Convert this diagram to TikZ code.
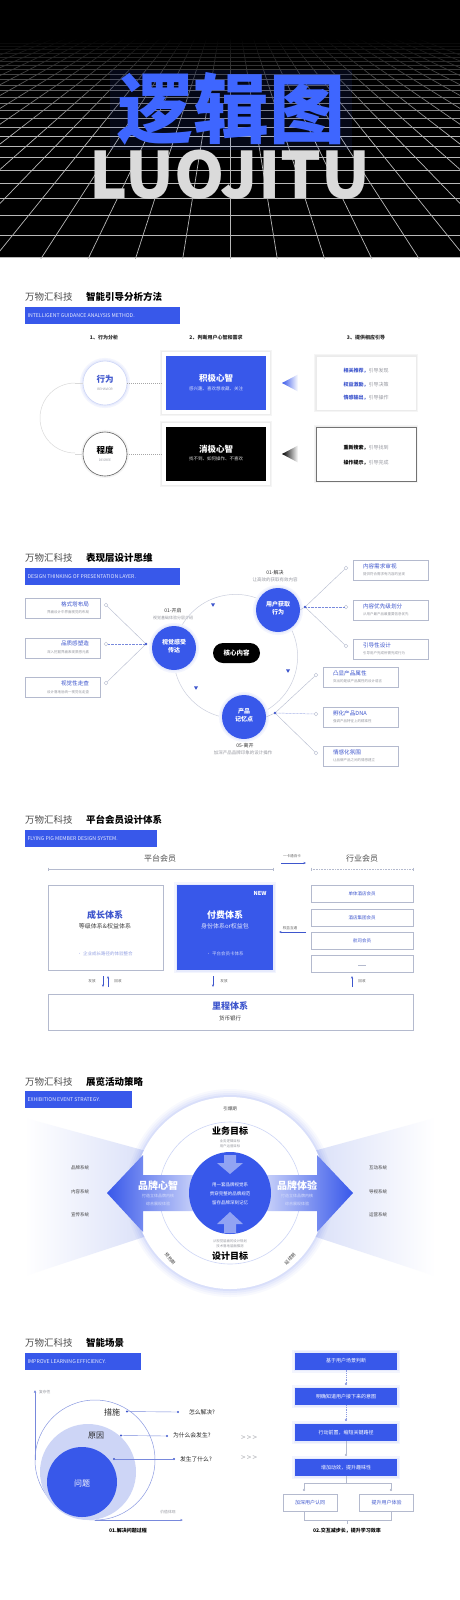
\documentclass[tikz,border=0pt]{standalone}
\usepackage{fontspec}
\setmainfont{Noto Sans CJK SC}
\usetikzlibrary{arrows.meta,fadings,calc}
\definecolor{mblue}{RGB}{56,88,234}
\definecolor{tblue}{RGB}{62,86,205}
\definecolor{lblue}{RGB}{205,213,246}
\definecolor{gtext}{RGB}{150,152,160}
\definecolor{bline}{RGB}{180,186,206}
\definecolor{ttl}{RGB}{62,102,255}
\definecolor{lgray}{RGB}{218,218,218}
\begin{document}
\begin{tikzpicture}[x=1pt,y=-1pt,
  every node/.style={inner sep=0pt,outer sep=0pt},
  fs/.style={font=\fontsize{#1}{#1}\selectfont},
  fsb/.style={font=\fontsize{#1}{#1}\selectfont\bfseries},
  hdr/.style={anchor=west,fs=9.5,text=black!70},
  hdrb/.style={anchor=west,fsb=9.5,text=black},
  bannerbox/.style={anchor=north west,fill=mblue,minimum height=16.5pt},
  bannertext/.style={anchor=west,fs=5.2,text=white!88!mblue},
  gridline/.style={draw=white!72!black,line width=0.7pt},
  colhead/.style={fsb=5,text=black!85},
  softshadow/.style={preaction={draw=black!4,line width=4pt},preaction={draw=black!7,line width=2pt}},
  blueglow/.style={preaction={draw=mblue!6,line width=6pt},preaction={draw=mblue!12,line width=3pt}},
  arcline/.style={draw=black!15,line width=0.5pt},
  dashline/.style={draw=black!35,dash pattern=on 1pt off 1pt,line width=0.4pt},
  bigc/.style={circle,minimum size=44pt,fill=white,line width=0.6pt},
  frame/.style={minimum width=108pt,minimum height=62pt,fill=white,softshadow},
  mbox/.style={minimum width=100pt,minimum height=54pt},
  rbox/.style={minimum width=100pt,minimum height=54pt,fill=white,line width=0.5pt},
  bcirc/.style={circle,minimum size=44pt,fill=mblue,blueglow},
  ctext/.style={text=white,align=center,font=\fontsize{6}{8}\selectfont\bfseries},
  conn/.style={draw=bline,line width=0.4pt},
  dconn/.style={draw=tblue!70,dash pattern=on 0.6pt off 0.8pt,line width=0.5pt},
  smallc/.style={circle,draw=bline,fill=white,minimum size=3.6pt,line width=0.4pt},
  hub/.style={circle,fill=tblue,minimum size=2.6pt},
  lbox/.style={draw=bline,fill=white,minimum width=75pt,minimum height=20pt,line width=0.5pt},
  ltitle/.style={fs=5.6,text=tblue},
  lsub/.style={fs=3.5,text=gtext},
  sbox/.style={draw=bline,fill=white,line width=0.5pt},
  tarrow/.style={draw=tblue,line width=0.4pt,-{Stealth[length=2.5pt,width=2pt]}},
  tiny/.style={fs=3.6,text=black!60},
  flow/.style={fill=mblue,minimum width=102pt,minimum height=17pt,text=white,fs=5,blueglow},
  flow2/.style={draw=bline,fill=white,minimum width=54pt,minimum height=17pt,text=tblue,fs=5},
  fline/.style={draw=bline,line width=0.5pt},
  dot/.style={circle,fill=tblue,minimum size=2.2pt}
]
\useasboundingbox (0,0) rectangle (460,1600);
\clip (0,0) rectangle (460,1600);
\fill[white] (0,0) rectangle (460,1600);

% ================= HEADER =================
\fill[black] (0,0) rectangle (460,258);
\begin{scope}
  \clip (0,40) rectangle (460,258);
  \foreach \n in {0,...,25}{
    \pgfmathsetmacro\yy{-79+336/(1+0.07*\n)}
    \draw[gridline] (0,\yy) -- (460,\yy);
  }
  \foreach \k in {-16,...,16}{
    \draw[gridline] (230,-34) -- (230+47.8*\k,262);
  }
  \fill[black,path fading=south] (0,38) rectangle (460,135);
\end{scope}
\fill[mblue,opacity=0.10] (110,70) rectangle (352,150);
\node[fsb=76,text=ttl] (title) at (231,109) {逻辑图};
\node[fsb=64,text=lgray,anchor=base] (sub) at (230,198) {LUOJITU};

% ================= SECTION 1 =================
\node[hdr] (h1a) at (25,297) {万物汇科技};
\node[hdrb] (h1b) at (86,297) {智能引导分析方法};
\node[bannerbox,minimum width=155pt] (bn1) at (25,307) {};
\node[bannertext] at ([xshift=2.5pt]bn1.west) {INTELLIGENT GUIDANCE ANALYSIS METHOD.};
\node[colhead] (ch1) at (104,338) {1、行为分析};
\node[colhead] (ch2) at (216,338) {2、判断用户心智和需求};
\node[colhead] (ch3) at (366,338) {3、提供相应引导};

\draw[arcline] (75,383) arc[start angle=90,end angle=270,radius=35pt];
\node[bigc,draw=lblue,blueglow] (xw) at (105,383) {};
\node[bigc,draw=black!60,softshadow] (cd) at (105,454) {};
\draw[arcline] (75,383) -- (xw.west);
\draw[arcline] (75,454) -- (cd.west);
\node[fsb=8.5,text=tblue] at (105,379) {行为};
\node[fs=3.2,text=gtext] at (105,389) {BEHAVIOR};
\node[fsb=8.5,text=black] at (105,450) {程度};
\node[fs=3.2,text=gtext] at (105,460) {DEGREE};

\node[frame] (fr1) at (216,383) {};
\node[frame] (fr2) at (216,454) {};
\node[mbox,fill=mblue] (jj) at (216,383) {};
\node[mbox,fill=black] (xj) at (216,454) {};
\draw[dashline] (xw.east) -- (fr1.west);
\draw[dashline] (cd.east) -- (fr2.west);
\node[fsb=8.5,text=white] at (216,378) {积极心智};
\node[fs=4.5,text=white!80!mblue] at (216,389) {感兴趣、喜欢想收藏、关注};
\node[fsb=8.5,text=white] at (216,449) {消极心智};
\node[fs=4.5,text=white!85!black] at (216,459) {找不到、如何操作、不喜欢};

\shade[left color=mblue,right color=white] (282,383) -- (298,374.5) -- (298,391.5) -- cycle;
\shade[left color=black,right color=white] (282,454) -- (298,445.5) -- (298,462.5) -- cycle;

\node[rbox,draw=black!8,softshadow] (ra) at (366,383) {};
\node[rbox,draw=black!55,softshadow] (rb) at (366,454) {};
\node[fs=5] at (366,371) {\textcolor{tblue}{\bfseries 相关推荐，}\textcolor{gtext}{引导发现}};
\node[fs=5] at (366,384.5) {\textcolor{tblue}{\bfseries 权益激励，}\textcolor{gtext}{引导决策}};
\node[fs=5] at (366,398) {\textcolor{tblue}{\bfseries 情感输出，}\textcolor{gtext}{引导操作}};
\node[fs=5] at (366,448) {\textcolor{black}{\bfseries 重新搜索，}\textcolor{gtext}{引导找到}};
\node[fs=5] at (366,463) {\textcolor{black}{\bfseries 操作提示，}\textcolor{gtext}{引导完成}};

% ================= SECTION 2 =================
\node[hdr] (h2a) at (25,558) {万物汇科技};
\node[hdrb] (h2b) at (86,558) {表现层设计思维};
\node[bannerbox,minimum width=155pt] (bn2) at (25,568) {};
\node[bannertext] at ([xshift=2.5pt]bn2.west) {DESIGN THINKING OF PRESENTATION LAYER.};

\draw[draw=bline!70,line width=0.5pt] (235.6,656.4) circle[radius=62pt];
\foreach \px/\py in {213/605,196/688,288/671}{
  \fill[tblue] (\px-2,\py-1.6) -- (\px+2,\py-1.6) -- (\px,\py+1.8) -- cycle;
}
\node[fill=black,rounded corners=10pt,minimum width=47pt,minimum height=20pt,text=white,fsb=6.5] (core) at (236.5,653) {核心内容};

% left group
\node[lbox] (lb1) at (62.5,608) {};
\node[lbox] (lb2) at (62.5,648) {};
\node[lbox] (lb3) at (62.5,687.5) {};
\node[ltitle,anchor=east] at (89,604) {格式塔布局};
\node[lsub,anchor=east] at (89,612) {界面设计中界面视觉的布局};
\node[ltitle,anchor=east] at (89,643.5) {品质感塑造};
\node[lsub,anchor=east] at (89,652) {深入挖掘界面表现质感元素};
\node[ltitle,anchor=east] at (89,683) {视觉性走查};
\node[lsub,anchor=east] at (89,692) {设计落地后统一视觉化走查};
\node[smallc] (l1) at (106,605) {};
\node[smallc] (l2) at (106,644) {};
\node[smallc] (l3) at (106,683) {};
\node[hub] (hL) at (146,644) {};
\draw[conn] (hL) -- (l1);
\draw[dconn] (hL) -- (l2);
\draw[conn] (hL) -- (l3);

\node[bcirc] (vis) at (174,648) {};
\node[ctext] at (174,646) {视觉感受\\传达};
\node[fs=5,text=black!80] at (173,611) {01-开启};
\node[fs=4,text=gtext] at (173,618) {视觉基础体验分层介绍};

\node[bcirc] (usr) at (278,610) {};
\node[ctext] at (278,608) {用户获取\\行为};
\node[fs=5,text=black!80] at (275,573) {01-解决};
\node[fs=4.5,text=gtext] at (275,580) {让高效的获取有效内容};

\node[bcirc] (prd) at (244,717) {};
\node[ctext] at (244,715) {产品\\记忆点};
\node[fs=5,text=black!80] at (245,746) {05-离开};
\node[fs=4.5,text=gtext] at (243,753) {加深产品品牌印象的设计操作};

% right group 1
\node[hub] (hR1) at (305,607) {};
\node[smallc] (r1) at (346,568) {};
\node[smallc] (r2) at (346,607) {};
\node[smallc] (r3) at (346,646) {};
\draw[conn] (usr.east) -- (hR1);
\draw[conn] (hR1) -- (r1);
\draw[dconn] (hR1) -- (r2);
\draw[conn] (hR1) -- (r3);
\node[lbox] (rb1) at (390.5,570.5) {};
\node[lbox] (rb2) at (390.5,610) {};
\node[lbox] (rb3) at (390.5,649) {};
\node[ltitle,anchor=west] at (363,566) {内容需求审视};
\node[lsub,anchor=west] at (363,574) {提供符合需求有内容的呈现};
\node[ltitle,anchor=west] at (363,606) {内容优先级划分};
\node[lsub,anchor=west] at (363,614) {从用户最产品最重要信息优先};
\node[ltitle,anchor=west] at (363,645) {引导性设计};
\node[lsub,anchor=west] at (363,653) {引导用户完成所需完成行为};

% right group 2
\node[hub] (hR2) at (275,713) {};
\node[smallc] (p1) at (316,675) {};
\node[smallc] (p2) at (316,714) {};
\node[smallc] (p3) at (316,753) {};
\draw[conn] (prd.east) -- (hR2);
\draw[conn] (hR2) -- (p1);
\draw[dconn] (hR2) -- (p2);
\draw[conn] (hR2) -- (p3);
\node[lbox] (pb1) at (360.5,677) {};
\node[lbox] (pb2) at (360.5,717) {};
\node[lbox] (pb3) at (360.5,756) {};
\node[ltitle,anchor=west] at (333,673) {凸显产品属性};
\node[lsub,anchor=west] at (333,681) {突出的是该产品属性的设计语言};
\node[ltitle,anchor=west] at (333,713) {孵化产品DNA};
\node[lsub,anchor=west] at (333,721) {强调产品特征上的精准性};
\node[ltitle,anchor=west] at (333,752) {情感化氛围};
\node[lsub,anchor=west] at (333,760) {让品牌产品之间的情感建立};

% ================= SECTION 3 =================
\node[hdr] (h3a) at (25,820) {万物汇科技};
\node[hdrb] (h3b) at (86,820) {平台会员设计体系};
\node[bannerbox,minimum width=132pt] (bn3) at (25,830) {};
\node[bannertext] at ([xshift=2.5pt]bn3.west) {FLYING PIG MEMBER DESIGN SYSTEM.};

\node[fs=8,text=black!70] (pm) at (160,858) {平台会员};
\node[fs=8,text=black!70] (im) at (362,858) {行业会员};
\coordinate (pl1) at (48,869); \coordinate (pl2) at (273,869);
\coordinate (il1) at (311,869); \coordinate (il2) at (413,869);
\draw[draw=bline,line width=0.5pt] (pl1) -- (pl2);
\draw[draw=bline,line width=0.4pt] (48,867.5) -- (48,870.5) (273,867.5) -- (273,870.5);
\draw[draw=bline,line width=0.5pt,dash pattern=on 0.8pt off 0.8pt] (il1) -- (il2);
\draw[draw=bline,line width=0.4pt] (311,867.5) -- (311,870.5) (413,867.5) -- (413,870.5);
\node[tiny] (ykt) at (292,856) {一卡通百卡};
\coordinate (ya) at (281,863); \coordinate (yb) at (306,863);
\draw[tarrow] (ya) -- (yb);

\node[sbox,minimum width=115pt,minimum height=85pt] (cz) at (105.5,927.5) {};
\node[fill=mblue,minimum width=96pt,minimum height=85pt,blueglow] (ff) at (225,927.5) {};
\node[fsb=9,text=tblue] at (105,915) {成长体系};
\node[fs=6,text=black!75] at (105,926) {等级体系\&权益体系};
\node[fs=4.5,text=tblue!55] at (105,954) {• 企业成长路径的体验整合};
\node[fsb=5.5,text=white] at (260,893) {NEW};
\node[fsb=9,text=white] at (225,915) {付费体系};
\node[fs=6,text=white!85!mblue] at (225,926) {身份体系or权益包};
\node[fs=4.5,text=white!75!mblue] at (225,954) {• 平台会员卡体系};

\node[sbox,minimum width=102pt,minimum height=17pt,fs=4.5,text=tblue] (m1) at (362,893.5) {单体酒店会员};
\node[sbox,minimum width=102pt,minimum height=17pt,fs=4.5,text=tblue] (m2) at (362,917.5) {酒店集团会员};
\node[sbox,minimum width=102pt,minimum height=17pt,fs=4.5,text=tblue] (m3) at (362,940.5) {航司会员};
\node[sbox,minimum width=102pt,minimum height=17pt] (m4) at (362,964) {};
\draw[draw=bline,line width=0.4pt] (358,965) -- (366,965);
\node[tiny] (qy) at (290,928) {权益互通};
\coordinate (qa) at (306,932); \coordinate (qb) at (279,932);
\draw[tarrow] (qa) -- (qb);

\node[tiny] at (92,981) {发放};
\draw[tarrow] (103,976) -- (103,987);
\draw[tarrow] (108,987) -- (108,976);
\node[tiny] at (118,981) {回收};
\draw[tarrow] (213,976) -- (213,987);
\node[tiny] at (224,981) {发放};
\draw[tarrow] (352,987) -- (352,976);
\node[tiny] at (362,981) {回收};

\node[sbox,minimum width=365pt,minimum height=36pt] (lc) at (230.5,1012) {};
\node[fsb=9,text=tblue] at (230,1006) {里程体系};
\node[fs=5.5,text=black!75] at (230,1018) {货币银行};

% ================= SECTION 4 =================
\node[hdr] (h4a) at (25,1082) {万物汇科技};
\node[hdrb] (h4b) at (86,1082) {展览活动策略};
\node[bannerbox,minimum width=107pt] (bn4) at (25,1091) {};
\node[bannertext] at ([xshift=2.5pt]bn4.west) {EXHIBITION EVENT STRATEGY.};

\shade[left color=white,right color=lblue!75] (25,1118) -- (150,1152) -- (150,1235) -- (25,1276) -- cycle;
\shade[right color=white,left color=lblue!75] (435,1118) -- (310,1152) -- (310,1235) -- (435,1276) -- cycle;
\foreach \r/\o in {104/0.03,102/0.04,100/0.05,98/0.07}{
  \fill[mblue,opacity=\o] (230,1193) circle[radius=\r pt];
}
\fill[white] (230,1193) circle[radius=96pt];
\draw[draw=lblue,line width=0.6pt,fill=white] (230,1193) circle[radius=71pt];
\shade[left color=mblue,right color=mblue!25!white] (107,1193) -- (143,1155) -- (143,1175) -- (198,1175) -- (198,1211) -- (143,1211) -- (143,1232) -- cycle;
\shade[right color=mblue,left color=mblue!25!white] (353,1193) -- (317,1155) -- (317,1175) -- (262,1175) -- (262,1211) -- (317,1211) -- (317,1232) -- cycle;
\fill[mblue] (230,1193) circle[radius=41pt];
\fill[white,opacity=0.45] (224,1155) -- (236,1155) -- (236,1163) -- (243,1163) -- (230,1174) -- (217,1163) -- (224,1163) -- cycle;
\fill[white,opacity=0.45] (224,1233) -- (236,1233) -- (236,1224) -- (243,1224) -- (230,1212) -- (217,1224) -- (224,1224) -- cycle;
\node[fs=4.5,text=white] at (230,1185) {用一套品牌视觉系};
\node[fs=4.5,text=white] at (230,1194) {贯穿完整的品牌规范};
\node[fs=4.5,text=white] at (230,1203) {留存品牌深刻记忆};
\node[fsb=9,text=black] (yw) at (230,1131) {业务目标};
\node[fs=3.4,text=gtext] at (230,1141) {业务逻辑目标};
\node[fs=3.4,text=gtext] at (230,1146) {用户运营目标};
\node[fsb=9,text=black] (sj) at (230,1256) {设计目标};
\node[fs=3.4,text=gtext] at (230,1241) {从视觉层面的设计规划};
\node[fs=3.4,text=gtext] at (230,1246) {技术落地层面推测};
\node[fsb=10,text=white] at (158,1186) {品牌心智};
\node[fs=4,text=white!80!mblue] at (158,1196) {打造立体品牌内核};
\node[fs=4,text=white!80!mblue] at (158,1204) {综合展现体验};
\node[fsb=10,text=white] at (297,1186) {品牌体验};
\node[fs=4,text=white!80!mblue] at (297,1196) {打造立体品牌内核};
\node[fs=4,text=white!80!mblue] at (297,1204) {综合展现体验};
\node[fs=4.5,text=black!75] at (230,1109) {引爆期};
\node[fs=4.5,text=black!75,rotate=-50] at (170,1259) {预热期};
\node[fs=4.5,text=black!75,rotate=48] at (290,1259) {延续期};
\node[fs=4.5,text=black!75] at (80,1168) {品牌系统};
\node[fs=4.5,text=black!75] at (80,1192) {内容系统};
\node[fs=4.5,text=black!75] at (80,1215) {宣传系统};
\node[fs=4.5,text=black!75] at (378,1168) {互动系统};
\node[fs=4.5,text=black!75] at (378,1192) {导视系统};
\node[fs=4.5,text=black!75] at (378,1215) {运营系统};

% ================= SECTION 5 =================
\node[hdr] (h5a) at (25,1343) {万物汇科技};
\node[hdrb] (h5b) at (86,1343) {智能场景};
\node[bannerbox,minimum width=116pt] (bn5) at (25,1353) {};
\node[bannertext] at ([xshift=2.5pt]bn5.west) {IMPROVE LEARNING EFFICIENCY.};

\coordinate (ax0) at (35,1460); \coordinate (ax1) at (35,1390);
\coordinate (ay0) at (95,1520); \coordinate (ay1) at (183,1520);
\draw[draw=tblue!70,line width=0.5pt,-{Latex[length=2.5pt,width=2.5pt]}] (ax0) -- (ax1);
\draw[draw=tblue!70,line width=0.5pt,-{Latex[length=2.5pt,width=2.5pt]}] (ay0) -- (ay1);
\node[fs=3.8,text=gtext,anchor=west] at (39,1392) {复杂性};
\node[fs=3.8,text=gtext] at (168,1512) {价值体现};
\draw[draw=tblue!60,line width=0.5pt] (95,1460) circle[radius=60pt];
\fill[lblue] (88,1472) circle[radius=48pt];
\fill[mblue] (82,1482) circle[radius=35pt];
\node[fs=8,text=black!85] (cs) at (112,1412) {措施};
\node[fs=8,text=black!85] (yy) at (96,1436) {原因};
\node[fs=8,text=white] (wt) at (82,1483) {问题};
\node[dot] (d1a) at (127,1411.5) {}; \node[dot] (d1b) at (178,1412) {};
\node[dot] (d2a) at (121,1435.5) {}; \node[dot] (d2b) at (167,1436) {};
\node[dot] (d3a) at (114,1459) {}; \node[dot] (d3b) at (174,1459) {};
\draw[draw=tblue!70,line width=0.4pt] (d1a) -- (d1b);
\draw[draw=tblue!70,line width=0.4pt] (d2a) -- (d2b);
\draw[draw=tblue!70,line width=0.4pt] (d3a) -- (d3b);
\node[fs=5.8,text=black!85,anchor=west] at (189,1412) {怎么解决?};
\node[fs=5.8,text=black!85,anchor=west] at (173,1435.5) {为什么会发生?};
\node[fs=5.8,text=black!85,anchor=west] at (180,1459) {发生了什么?};
\node[fs=8,text=gtext!80] at (249,1438) {>\,>\,>};
\node[fs=8,text=gtext!80] at (249,1458) {>\,>\,>};
\node[fsb=5,text=black] at (128,1531) {01.解决问题过程};

\node[flow] (f1) at (346,1361) {基于用户场景判断};
\node[flow] (f2) at (346,1396.5) {明确知道用户接下来的意图};
\node[flow] (f3) at (346,1432.5) {行动前置，缩短关键路径};
\node[flow] (f4) at (346,1467.5) {增加动效，提升趣味性};
\node[flow2] (f5) at (310,1503) {加深用户认同};
\node[flow2] (f6) at (386.5,1503) {提升用户体验};
\draw[draw=tblue!60,line width=0.5pt,dash pattern=on 0.8pt off 1pt,-{Circle[length=2.2pt]}] (f1.south) -- ([yshift=3pt]f2.north);
\draw[draw=tblue!60,line width=0.5pt,dash pattern=on 0.8pt off 1pt,-{Circle[length=2.2pt]}] (f2.south) -- ([yshift=3pt]f3.north);
\draw[draw=bline,line width=0.5pt,-{Circle[length=2.2pt]}] (f3.south) -- ([yshift=3pt]f4.north);
\coordinate (bj) at (346,1483);
\coordinate (bl) at (304,1483); \coordinate (br) at (391,1483);
\draw[fline] (f4.south) -- (bj);
\draw[fline] (bl) -- (br);
\draw[fline,-{Circle[length=2.2pt]}] (bl) -- (304,1491);
\draw[fline,-{Circle[length=2.2pt]}] (br) -- (391,1491);
\draw[fline] (304,1512) -- (304,1520) -- (391,1520) -- (391,1512);
\draw[fline] (347,1520) -- (347,1524);
\node[fsb=5,text=black] at (347,1531) {02.交互减步长，提升学习效率};
\end{tikzpicture}
\end{document}
